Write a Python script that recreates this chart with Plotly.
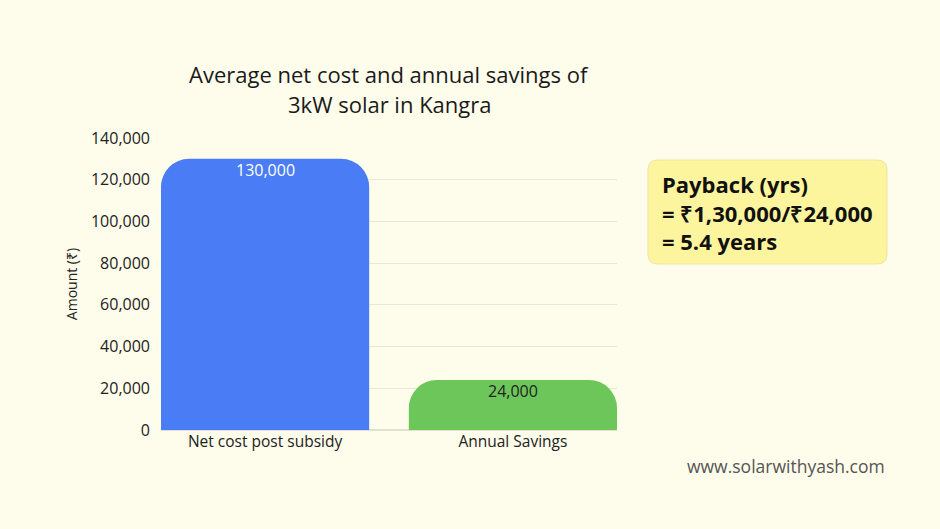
import plotly.graph_objects as go

categories = ["Net cost post subsidy", "Annual Savings"]
values = [130000, 24000]
value_labels = ["130,000", "24,000"]
bar_colors = ["#4A7DF5", "#6CC65A"]
label_colors = ["#FFFFFF", "#222222"]
y_ticks = [0, 20000, 40000, 60000, 80000, 100000, 120000, 140000]

title_lines = ["Average net cost and annual savings of", "3kW solar in Kangra"]
note_text = "<b>Payback (yrs)<br>= ₹1,30,000/₹24,000<br>= 5.4 years</b>"
watermark = "www.solarwithyash.com"

BG = "#FEFCEA"
FONT = "Open Sans"

W, H = 940, 529
L, R, T, B = 161, 323, 138, 99
pw, ph = W - L - R, H - T - B


def px2paper(x, y):
    return (x - L) / pw, (H - B - y) / ph


def rounded_rect(x0, y0, x1, y1, r):
    def P(x, y):
        a, b = px2paper(x, y)
        return f"{a:.5f},{b:.5f}"
    rx = r
    return (
        f"M {P(x0 + rx, y0)} L {P(x1 - rx, y0)} "
        f"Q {P(x1, y0)} {P(x1, y0 + rx)} L {P(x1, y1 - rx)} "
        f"Q {P(x1, y1)} {P(x1 - rx, y1)} L {P(x0 + rx, y1)} "
        f"Q {P(x0, y1)} {P(x0, y1 - rx)} L {P(x0, y0 + rx)} "
        f"Q {P(x0, y0)} {P(x0 + rx, y0)} Z"
    )


fig = go.Figure()
fig.add_trace(go.Bar(
    x=categories,
    y=values,
    width=0.84,
    marker=dict(color=bar_colors, line=dict(width=0)),
    hoverinfo="skip",
))

for cat, val, lab, col in zip(categories, values, value_labels, label_colors):
    fig.add_annotation(
        x=cat, y=val, xref="x", yref="y",
        text=lab, showarrow=False,
        yanchor="top", yshift=2,
        font=dict(color=col, size=16, family=FONT),
    )

fig.update_layout(
    width=W, height=H,
    paper_bgcolor=BG, plot_bgcolor=BG,
    margin=dict(l=L, r=R, t=T, b=B, autoexpand=False),
    barcornerradius=28,
    showlegend=False,
    font=dict(family=FONT, color="#222222"),
    xaxis=dict(
        range=[-0.42, 1.42],
        showgrid=False, zeroline=False, showline=False,
        tickfont=dict(size=15.5, color="#222222"),
        ticks="", ticklen=0,
    ),
    yaxis=dict(
        range=[0, 140000],
        tickvals=y_ticks,
        tickformat=",",
        showgrid=True, gridcolor="#E9E7D6", gridwidth=1,
        zeroline=True, zerolinecolor="#E2E0CF",
        showline=False,
        tickfont=dict(size=16, color="#222222"),
        ticks="", ticklabelstandoff=10,
        title=dict(text="Amount (₹)", font=dict(size=14, color="#222222"), standoff=10),
    ),
)

for line, py in zip(title_lines, [74, 104]):
    tx, ty = px2paper(389, py)
    fig.add_annotation(
        xref="paper", yref="paper", x=tx, y=ty,
        xanchor="center", yanchor="middle",
        text=line, showarrow=False,
        font=dict(size=22, family=FONT, color="#1a1a1a"),
    )

fig.add_shape(
    type="path", xref="paper", yref="paper",
    path=rounded_rect(648, 160, 887, 264, 10),
    fillcolor="#FDF59E", line=dict(color="#EDE4A0", width=1),
    layer="below",
)

fx, fy = px2paper(660, 212)
fig.add_annotation(
    xref="paper", yref="paper", x=fx, y=fy,
    xanchor="left", yanchor="middle", align="left",
    text=note_text, showarrow=False,
    font=dict(size=22, family=FONT, color="#111111"),
)

wx, wy = px2paper(887, 466)
fig.add_annotation(
    xref="paper", yref="paper", x=wx, y=wy,
    xanchor="right", yanchor="middle",
    text=watermark, showarrow=False,
    font=dict(size=17.5, family=FONT, color="#555555"),
)

fig.write_html("out.html")
